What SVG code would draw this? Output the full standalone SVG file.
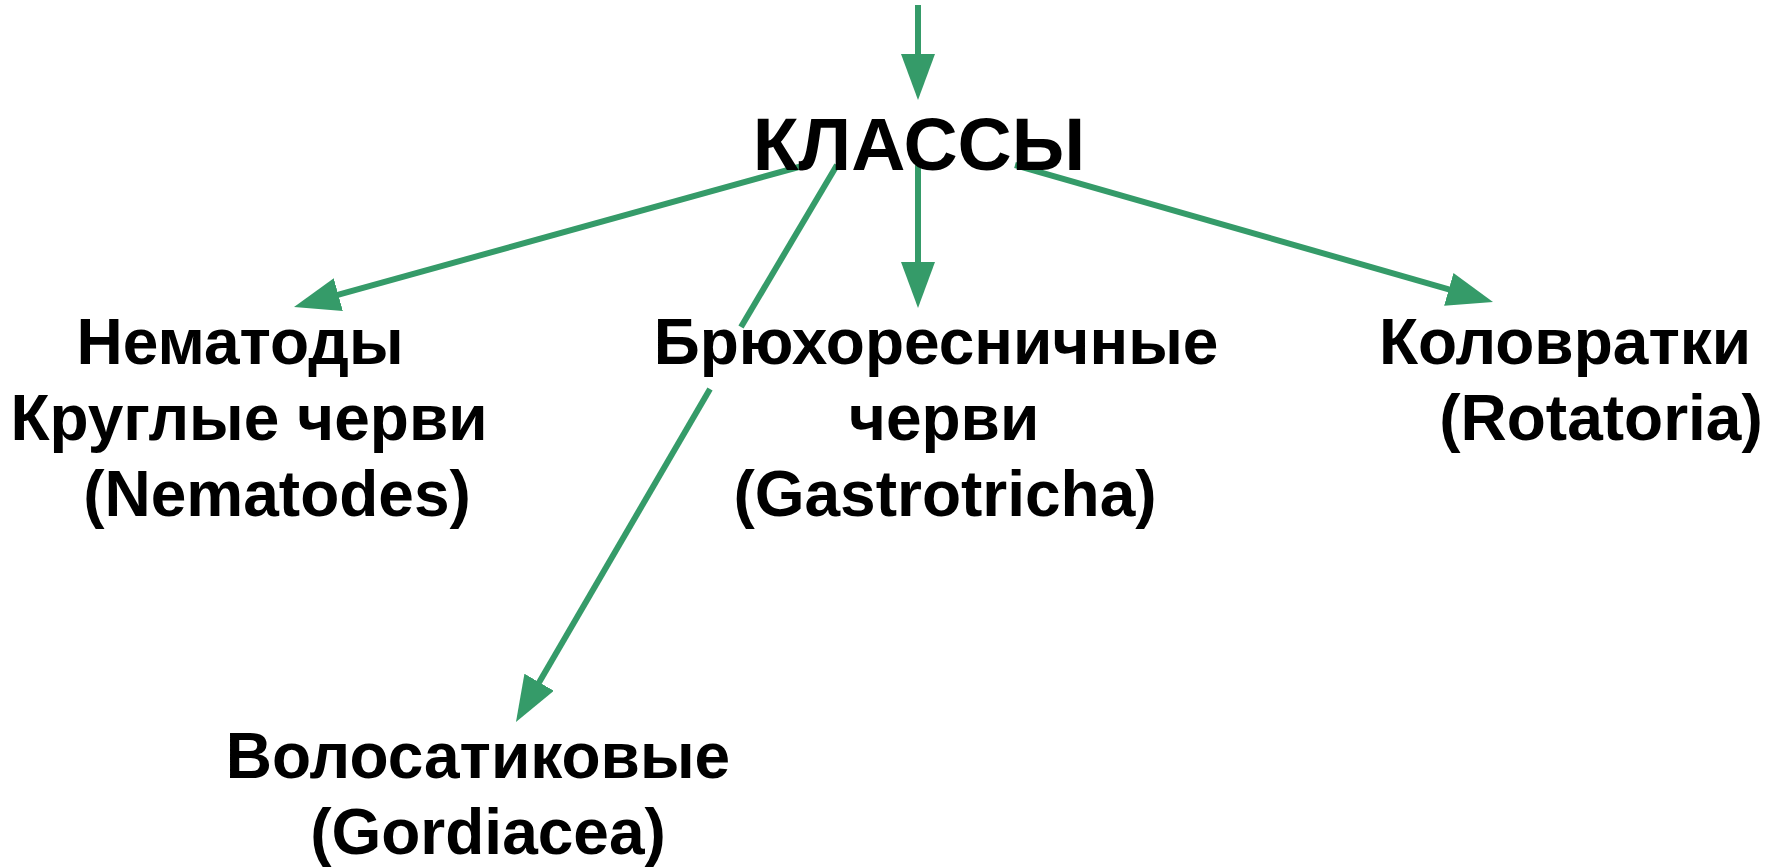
<svg xmlns="http://www.w3.org/2000/svg" width="1779" height="868" viewBox="0 0 1779 868">
<style>
.t{font-family:"Liberation Sans",Arial,sans-serif;font-weight:bold;fill:#000;text-anchor:middle}
.lbl{font-size:64px}
.ttl{font-size:75px}
.c{stroke:#359b69;stroke-width:6;fill:none}
</style>
<defs>
<marker id="ah" markerUnits="userSpaceOnUse" viewBox="0 0 46 34" refX="10" refY="17" markerWidth="46" markerHeight="34" orient="auto">
<path d="M0,0 L46,17 L0,34 z" fill="#359b69"/>
</marker>
</defs>
<rect width="1779" height="868" fill="#fff"/>
<g id="connectors">
<line class="c" x1="918" y1="5" x2="918" y2="64" marker-end="url(#ah)"/>
<line class="c" x1="918" y1="165" x2="918" y2="272" marker-end="url(#ah)"/>
<line class="c" x1="806" y1="165" x2="328.7" y2="297.4" marker-end="url(#ah)"/>
<line class="c" x1="1015" y1="165" x2="1458.4" y2="292.1" marker-end="url(#ah)"/>
<line class="c" x1="837" y1="165" x2="741" y2="327"/>
<line class="c" x1="710" y1="389" x2="534.1" y2="690.9" marker-end="url(#ah)"/>
</g>
<g id="klassy"><text class="t ttl" x="919" y="170">КЛАССЫ</text></g>
<g id="nematodes">
<text class="t lbl" x="240" y="364">Нематоды</text>
<text class="t lbl" x="249" y="440">Круглые черви</text>
<text class="t lbl" x="277" y="516">(Nematodes)</text>
</g>
<g id="gastrotricha">
<text class="t lbl" x="936" y="364">Брюхоресничные</text>
<text class="t lbl" x="944" y="440">черви</text>
<text class="t lbl" x="945" y="516">(Gastrotricha)</text>
</g>
<g id="rotatoria">
<text class="t lbl" x="1565" y="364">Коловратки</text>
<text class="t lbl" x="1601" y="440">(Rotatoria)</text>
</g>
<g id="gordiacea">
<text class="t lbl" x="478" y="778">Волосатиковые</text>
<text class="t lbl" x="488" y="854">(Gordiacea)</text>
</g>
</svg>
